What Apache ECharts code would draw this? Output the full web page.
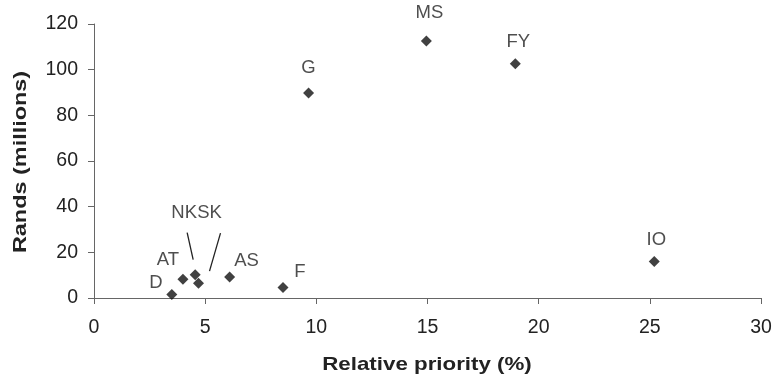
<!DOCTYPE html>
<html><head><meta charset="utf-8">
<script src="https://cdn.jsdelivr.net/npm/echarts@6/dist/echarts.min.js"></script>
<style>html,body{margin:0;padding:0;background:#fff}#c{width:777px;height:380px}</style>
</head><body><div id="c"></div>
<script>
var names = ['D','AT','NK','SK','AS','F','G','MS','FY','IO'];
var priority = [3.5, 4.0, 4.55, 4.7, 6.1, 8.5, 9.65, 14.95, 18.95, 25.2];
var rands = [1.5, 8.2, 10.2, 6.5, 9.2, 4.6, 89.8, 112.6, 102.6, 16.0];
var xTicks = [0, 5, 10, 15, 20, 25, 30];
var yTicks = [0, 20, 40, 60, 80, 100, 120];
var xTitle = 'Relative priority (%)';
var yTitle = 'Rands (millions)';

// label placement (pixel offsets from each marker)
var labelOffsets = {
  D: [-16, -12], AT: [-15, -19], NK: [-11, -62], SK: [11, -70],
  AS: [17, -16], F: [17, -16], G: [0, -25], MS: [3, -28], FY: [3, -22], IO: [2, -22]
};
// leader lines for NK / SK: [startDx, startDy, endDx, endDy] relative to marker
var leaders = { NK: [-8, -42, -2, -15], SK: [22, -50, 11, -12] };

var pts = names.map(function (n, i) { return { name: n, value: [priority[i], rands[i]] }; });
var font = '"Liberation Sans", Arial, sans-serif';
var fs = 18.5;
var chart = echarts.init(document.getElementById('c'));
chart.setOption({
  animation: false,
  grid: { left: 94, right: 16, top: 24, bottom: 82 },
  xAxis: {
    type: 'value', min: xTicks[0], max: xTicks[xTicks.length - 1], interval: 5,
    axisLine: { lineStyle: { color: '#666', width: 1 } },
    axisTick: { show: true, length: 6, lineStyle: { color: '#666' } },
    axisLabel: { fontFamily: font, fontSize: 19.5, color: '#222', margin: 20 },
    splitLine: { show: false }
  },
  yAxis: {
    type: 'value', min: yTicks[0], max: yTicks[yTicks.length - 1], interval: 20,
    axisLine: { show: true, lineStyle: { color: '#666', width: 1 } },
    axisTick: { show: true, length: 6, lineStyle: { color: '#666' } },
    axisLabel: { fontFamily: font, fontSize: 19.5, color: '#222', margin: 16 },
    splitLine: { show: false }
  },
  series: [{
    type: 'scatter',
    symbol: 'diamond',
    symbolSize: 11,
    itemStyle: { color: '#111' },
    data: pts,
    label: {
      show: true, position: 'inside',
      formatter: '{b}', fontFamily: font, fontSize: fs, color: '#222'
    },
    labelLayout: function (p) {
      var o = labelOffsets[names[p.dataIndex]];
      return { dx: o[0], dy: o[1] };
    },
    emphasis: { disabled: true }
  }]
});

var g = [];
Object.keys(leaders).forEach(function (n) {
  var i = names.indexOf(n);
  var p = chart.convertToPixel({ seriesIndex: 0 }, [priority[i], rands[i]]);
  var l = leaders[n];
  g.push({
    type: 'line', silent: true,
    shape: { x1: p[0] + l[0], y1: p[1] + l[1], x2: p[0] + l[2], y2: p[1] + l[3] },
    style: { stroke: '#222', lineWidth: 1.3 }
  });
});
// axis titles (slightly wide lettering as in the reference)
g.push({
  type: 'text', silent: true, x: 427, y: 365, scaleX: 1.2,
  style: { text: xTitle, fontFamily: font, fontWeight: 'bold', fontSize: 18.6,
           fill: '#222', align: 'center', verticalAlign: 'middle' }
});
g.push({
  type: 'text', silent: true, x: 21, y: 162, rotation: Math.PI / 2, scaleX: 1.26,
  style: { text: yTitle, fontFamily: font, fontWeight: 'bold', fontSize: 18.6,
           fill: '#222', align: 'center', verticalAlign: 'middle' }
});
chart.setOption({ graphic: g });
</script></body></html>
